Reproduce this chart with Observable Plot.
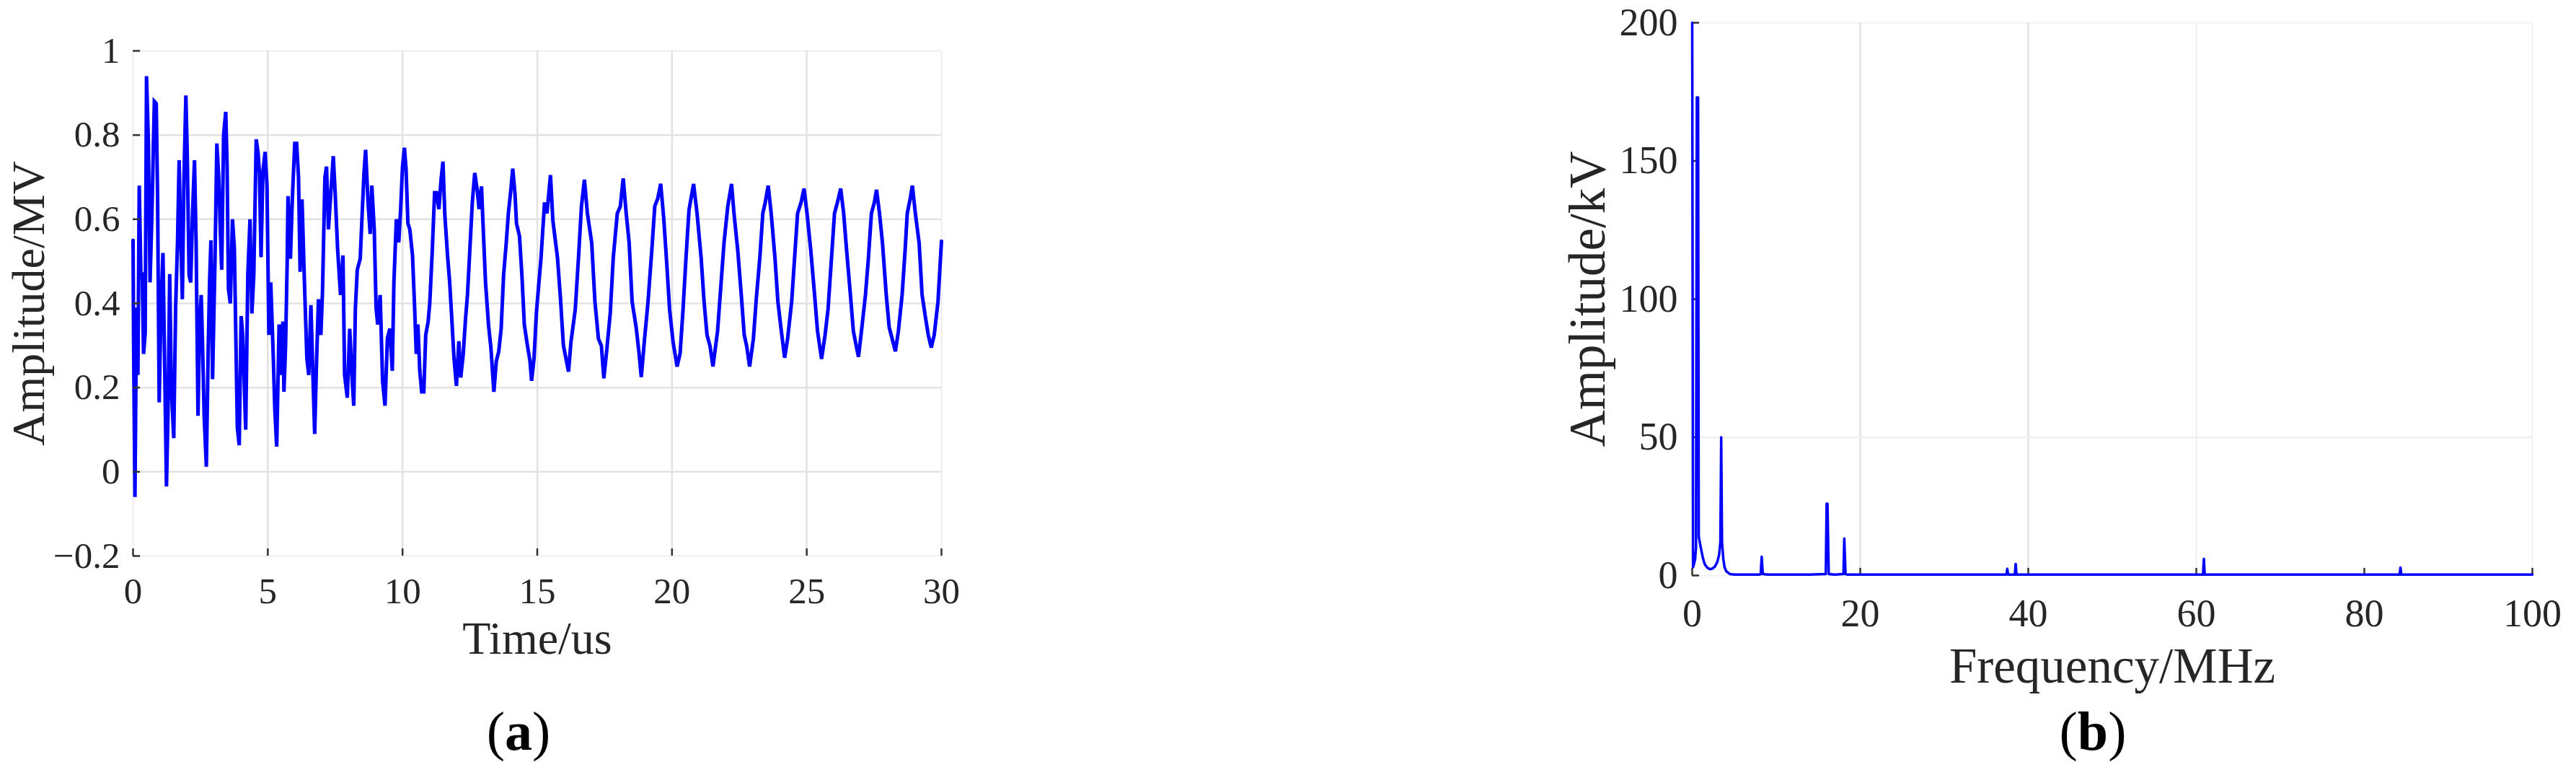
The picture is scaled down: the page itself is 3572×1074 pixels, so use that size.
<!DOCTYPE html>
<html>
<head>
<meta charset="utf-8">
<script src="https://cdn.jsdelivr.net/npm/d3@7"></script>
<script src="https://cdn.jsdelivr.net/npm/@observablehq/plot@0.6"></script>
<style>
html,body{margin:0;padding:0;background:#fff;}
#root{position:relative;width:3572px;height:1074px;overflow:hidden;background:#fff;font-family:"Liberation Serif","Times New Roman",serif;}
.panel{position:absolute;top:0;}
.cap{position:absolute;font-size:76px;color:#000;line-height:1;transform:translate(-50%,-50%);white-space:nowrap;}
</style>
</head>
<body>
<div id="root">
  <div id="pa" class="panel" style="left:0px"></div>
  <div id="pb" class="panel" style="left:2150px"></div>
  <div class="cap" style="left:719px;top:1013px">(<b>a</b>)</div>
  <div class="cap" style="left:2902px;top:1013px">(<b>b</b>)</div>
</div>
<script>
// ---------- Panel (a): time-domain waveform ----------
const timeUs = [
  0,0.02,0.07,0.13,0.18,0.23,0.29,0.34,0.39,0.45,0.50,0.57,0.63,0.70,0.79,0.86,0.91,0.97,
  1.04,1.11,1.15,1.24,1.30,1.36,1.42,1.51,1.58,1.65,1.71,1.76,1.83,1.89,1.96,
  2.01,2.08,2.14,2.21,2.28,2.34,2.41,2.47,2.53,2.57,2.64,2.72,2.79,2.84,2.89,2.95,
  3.04,3.11,3.18,3.24,3.29,3.36,3.44,3.49,3.54,3.61,3.69,3.76,3.83,3.87,3.94,
  4.01,4.07,4.18,4.26,4.34,4.41,4.48,4.57,4.64,4.69,4.75,4.82,4.90,4.97,
  5.04,5.11,5.20,5.26,5.33,5.42,5.49,5.56,5.60,5.66,5.72,5.75,5.84,5.91,
  6.00,6.07,6.14,6.20,6.27,6.36,6.45,6.52,6.60,6.67,6.74,6.81,6.88,6.97,
  7.03,7.12,7.18,7.25,7.34,7.43,7.50,7.59,7.70,7.79,7.85,7.95,
  8.04,8.12,8.19,8.25,8.32,8.43,8.50,8.57,8.63,8.72,8.80,8.86,8.95,
  9.02,9.08,9.17,9.26,9.35,9.44,9.53,9.62,9.68,9.77,9.86,9.93,
  10.00,10.07,10.13,10.20,10.27,10.37,10.45,10.51,10.57,10.64,10.71,10.79,10.86,10.95,
  11.01,11.10,11.19,11.26,11.35,11.43,11.50,11.57,11.67,11.75,11.82,11.91,
  12.00,12.09,12.16,12.25,12.34,12.41,12.50,12.59,12.68,12.77,12.84,12.93,
  13.00,13.08,13.19,13.28,13.39,13.48,13.57,13.66,13.75,13.84,13.93,
  14.01,14.09,14.17,14.23,14.34,14.43,14.52,14.61,14.73,14.79,14.88,14.97,
  15.14,15.27,15.36,15.49,15.58,15.75,15.86,15.97,
  16.08,16.16,16.25,16.41,16.53,16.64,16.75,16.86,
  17.02,17.14,17.27,17.38,17.47,17.58,17.71,17.82,17.97,
  18.08,18.19,18.30,18.41,18.52,18.67,18.78,18.86,18.97,
  19.11,19.25,19.36,19.47,19.58,19.69,19.80,19.91,
  20.04,20.19,20.30,20.41,20.52,20.63,20.80,20.93,
  21.08,21.19,21.30,21.41,21.52,21.69,21.80,21.93,
  22.07,22.21,22.30,22.44,22.57,22.68,22.77,22.88,
  23.02,23.13,23.26,23.37,23.46,23.57,23.68,23.82,23.93,
  24.04,24.18,24.29,24.44,24.55,24.66,24.79,24.90,
  25.01,25.15,25.29,25.40,25.55,25.68,25.79,25.92,
  26.03,26.14,26.26,26.37,26.48,26.62,26.73,26.81,26.92,
  27.03,27.18,27.29,27.40,27.51,27.59,27.70,27.81,27.95,
  28.06,28.17,28.29,28.40,28.54,28.65,28.73,28.84,28.92,
  29.03,29.17,29.28,29.40,29.51,29.62,29.73,29.87,30.00
];
const ampMV = [
  0.55,0.31,-0.06,0.39,0.23,0.68,0.47,0.47,0.28,0.33,0.94,0.78,0.45,0.61,0.88,0.875,0.655,0.165,
  0.40,0.52,0.35,-0.035,0.15,0.47,0.20,0.08,0.39,0.545,0.74,0.58,0.41,0.70,0.894,
  0.757,0.467,0.45,0.62,0.74,0.545,0.133,0.357,0.42,0.325,0.13,0.012,0.294,0.45,0.55,0.22,
  0.50,0.78,0.70,0.57,0.48,0.80,0.855,0.725,0.435,0.40,0.60,0.53,0.26,0.105,0.063,
  0.37,0.325,0.10,0.47,0.60,0.376,0.467,0.79,0.757,0.71,0.51,0.714,0.76,0.68,
  0.325,0.45,0.28,0.15,0.06,0.35,0.23,0.357,0.19,0.30,0.50,0.655,0.506,0.647,
  0.78,0.78,0.70,0.475,0.647,0.45,0.27,0.23,0.396,0.24,0.09,0.263,0.41,0.325,
  0.427,0.70,0.725,0.576,0.663,0.75,0.663,0.53,0.42,0.514,0.23,0.176,
  0.34,0.23,0.157,0.388,0.48,0.506,0.61,0.71,0.765,0.64,0.565,0.68,0.576,
  0.388,0.35,0.42,0.216,0.157,0.318,0.34,0.24,0.45,0.60,0.545,0.624,
  0.725,0.77,0.72,0.59,0.576,0.514,0.388,0.28,0.35,0.24,0.19,0.19,0.325,0.357,
  0.40,0.52,0.663,0.663,0.624,0.694,0.737,0.61,0.514,0.45,0.373,0.27,
  0.204,0.31,0.224,0.278,0.365,0.42,0.53,0.64,0.71,0.67,0.624,0.678,
  0.569,0.45,0.35,0.294,0.19,0.263,0.286,0.34,0.467,0.537,0.616,
  0.663,0.72,0.663,0.59,0.56,0.467,0.35,0.31,0.263,0.216,0.27,0.38,
  0.509,0.64,0.614,0.705,0.596,0.509,0.413,0.30,
  0.264,0.238,0.308,0.386,0.509,0.631,0.694,0.614,
  0.544,0.404,0.316,0.299,0.222,0.29,0.378,0.509,0.614,
  0.63,0.697,0.614,0.544,0.404,0.343,0.28,0.225,0.308,
  0.404,0.526,0.631,0.649,0.684,0.605,0.50,0.386,
  0.308,0.25,0.281,0.386,0.509,0.622,0.684,0.614,
  0.509,0.404,0.325,0.299,0.25,0.334,0.43,0.544,
  0.631,0.684,0.614,0.526,0.421,0.325,0.299,0.25,
  0.316,0.413,0.509,0.614,0.64,0.68,0.614,0.509,0.404,
  0.343,0.271,0.316,0.404,0.509,0.614,0.64,0.673,
  0.614,0.526,0.421,0.334,0.268,0.325,0.386,0.509,
  0.614,0.64,0.673,0.614,0.526,0.421,0.334,0.308,0.273,
  0.334,0.421,0.509,0.614,0.64,0.67,0.614,0.544,0.421,
  0.343,0.316,0.286,0.334,0.421,0.526,0.614,0.649,0.68,
  0.614,0.544,0.421,0.369,0.325,0.295,0.325,0.404,0.548
];
const timeTicks = [0, 5, 10, 15, 20, 25, 30];
const mvTicks = [-0.2, 0, 0.2, 0.4, 0.6, 0.8, 1];

// ---------- Panel (b): spectrum ----------
const freqMHz = [
  0,0.1,0.2,0.35,0.45,0.55,0.62,0.7,0.78,0.9,1.06,1.3,1.5,1.8,2.1,2.4,2.7,3.0,3.2,3.35,3.45,3.55,3.7,3.85,
  4.06,4.5,5.0,6.0,7.0,8.0,8.15,8.27,8.4,9,10,12,14,15.9,16.0,16.1,16.25,17,18.0,18.1,18.25,18.5,19,
  22,26,30,34,37.4,37.5,37.6,37.7,38.4,38.5,38.6,39,45,50,55,60.7,60.8,60.9,61.0,65,70,75,80,
  84.2,84.3,84.4,84.5,90,95,100
];
const ampKV = [
  200,3,4,6,10,173,173,173,14,12,9.5,6,4,2.8,2.3,2.5,3.2,5,7.5,12,50,12,6,3,
  1.5,0.5,0.3,0.3,0.3,0.3,0.5,6.8,0.5,0.3,0.3,0.3,0.3,0.5,26,26,0.5,0.3,0.5,13.4,0.5,0.3,0.3,
  0.3,0.3,0.3,0.3,0.3,2.4,0.3,0.3,0.3,4.2,0.3,0.3,0.3,0.3,0.3,0.3,0.3,6,0.3,0.3,0.3,0.3,0.3,
  0.3,2.9,0.3,0.3,0.3,0.3,0.3
];
const freqTicks = [0, 20, 40, 60, 80, 100];
const kvTicks = [0, 50, 100, 150, 200];

const wave = timeUs.map((t, i) => ({t, v: ampMV[i]}));
const spec = freqMHz.map((f, i) => ({f, a: ampKV[i]}));

const BLUE = "#0000ff";
const AXIS = "#333333";
const GRID = "#e2e2e2";
const fmtMV = d => d < 0 ? "\u2212" + String(Math.abs(d)) : String(d);

const chartA = Plot.plot({
  width: 1360, height: 1000,
  marginLeft: 184, marginRight: 55, marginTop: 70, marginBottom: 230,
  x: {domain: [0, 30]},
  y: {domain: [-0.2, 1]},
  style: {fontFamily: "Liberation Serif, Times New Roman, serif", fontSize: "51px", color: "#262626", background: "transparent", overflow: "visible"},
  marks: [
    Plot.frame({stroke: "#eeeeee", strokeWidth: 2}),
    Plot.gridX(timeTicks.slice(1, -1), {stroke: GRID, strokeOpacity: 1, strokeWidth: 2.5}),
    Plot.gridY(mvTicks.slice(1, -1), {stroke: GRID, strokeOpacity: 1, strokeWidth: 2.5}),
    Plot.line(wave, {x: "t", y: "v", stroke: BLUE, strokeWidth: 5, strokeLinejoin: "miter", strokeMiterlimit: 3}),
    Plot.axisX(timeTicks, {tickSize: -10, tickPadding: 39, line: true, stroke: AXIS, strokeWidth: 2.5, tickFormat: d => String(d), label: null, fontSize: 51}),
    Plot.axisY(mvTicks, {tickSize: -10, tickPadding: 28, line: true, stroke: AXIS, strokeWidth: 2.5, tickFormat: fmtMV, label: null, fontSize: 51}),
    Plot.axisX([], {label: "Time/us", labelAnchor: "center", labelOffset: 135, labelArrow: "none", fontSize: 64, tickSize: 0}),
    Plot.axisY([], {label: "Amplitude/MV", labelAnchor: "center", labelOffset: 169, labelArrow: "none", fontSize: 64, tickSize: 0})
  ]
});
document.getElementById("pa").appendChild(chartA);

const chartB = Plot.plot({
  width: 1422, height: 1000,
  marginLeft: 196, marginRight: 61, marginTop: 31, marginBottom: 203,
  x: {domain: [0, 100]},
  y: {domain: [0, 200]},
  style: {fontFamily: "Liberation Serif, Times New Roman, serif", fontSize: "54px", color: "#262626", background: "transparent", overflow: "visible"},
  marks: [
    Plot.frame({stroke: "#f2f2f2", strokeWidth: 2}),
    Plot.gridX([20, 40], {stroke: GRID, strokeOpacity: 1, strokeWidth: 2.5}),
    Plot.gridX([60], {stroke: "#f3f3f3", strokeOpacity: 1, strokeWidth: 2.5}),
    Plot.gridY([50], {stroke: "#efefef", strokeOpacity: 1, strokeWidth: 2.5}),
    Plot.axisX(freqTicks, {tickSize: -10, tickPadding: 42, line: true, stroke: AXIS, strokeWidth: 2.5, tickFormat: d => String(d), label: null, fontSize: 54}),
    Plot.axisY(kvTicks, {tickSize: -10, tickPadding: 30, line: true, stroke: AXIS, strokeWidth: 2.5, tickFormat: d => String(d), label: null, fontSize: 54}),
    Plot.line(spec, {x: "f", y: "a", stroke: BLUE, strokeWidth: 3.5}),
    Plot.axisX([], {label: "Frequency/MHz", labelAnchor: "center", labelOffset: 148, labelArrow: "none", fontSize: 69, tickSize: 0}),
    Plot.axisY([], {label: "Amplitude/kV", labelAnchor: "center", labelOffset: 172, labelArrow: "none", fontSize: 71, tickSize: 0})
  ]
});
document.getElementById("pb").appendChild(chartB);
</script>
</body>
</html>
